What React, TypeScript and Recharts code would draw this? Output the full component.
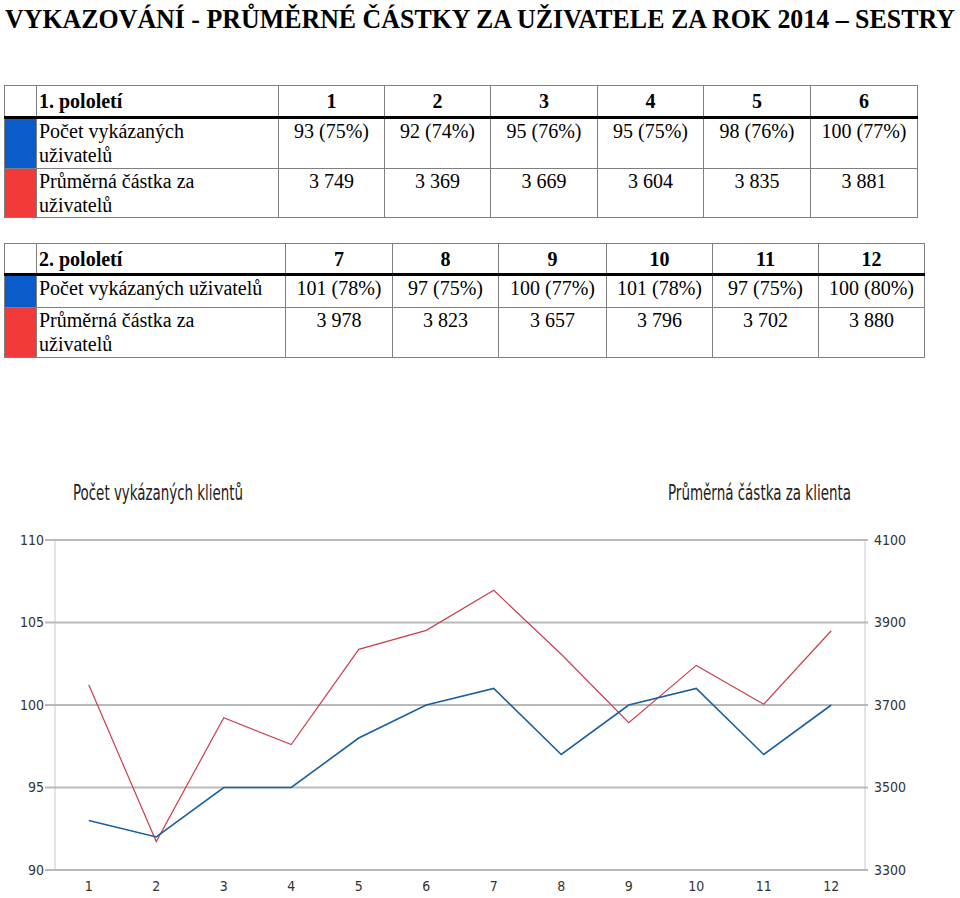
import React from 'react';
import { LineChart, Line, XAxis, YAxis, CartesianGrid } from 'recharts';

const months = [1, 2, 3, 4, 5, 6, 7, 8, 9, 10, 11, 12];
const clients = [93, 92, 95, 95, 98, 100, 101, 97, 100, 101, 97, 100];
const clientShare = [75, 74, 76, 75, 76, 77, 78, 75, 77, 78, 75, 80];
const avgAmount = [3749, 3369, 3669, 3604, 3835, 3881, 3978, 3823, 3657, 3796, 3702, 3880];

const leftTicks = [90, 95, 100, 105, 110];
const rightTicks = [3300, 3500, 3700, 3900, 4100];
const bandEdges = [0.5, 1.5, 2.5, 3.5, 4.5, 5.5, 6.5, 7.5, 8.5, 9.5, 10.5, 11.5, 12.5];

const chartData = months.map((m, i) => ({ month: m, clients: clients[i], amount: avgAmount[i] }));

const fmtAmount = (v: number) => {
  const s = String(v);
  return s.slice(0, s.length - 3) + ' ' + s.slice(-3);
};

const BLUE_SW = '#0a5ccb';
const RED_SW = '#f23a3a';
const GRID_H = '#b9b9b9';
const GRID_V = '#c8c8c8';
const serif = "'Liberation Serif', 'Times New Roman', serif";
const narrow = "'Liberation Sans Narrow', 'DejaVu Sans Condensed', Arial, sans-serif";

const cell: React.CSSProperties = {
  border: '1px solid #7f7f7f',
  padding: '0 2px',
  verticalAlign: 'top',
  fontFamily: serif,
  fontSize: 20,
  lineHeight: '24px',
  color: '#000',
  overflow: 'hidden',
  whiteSpace: 'nowrap',
};

function HalfTable({ title, idx, widths, heights, top, wrapFirst }: {
  title: string; idx: number[]; widths: number[]; heights: number[]; top: number; wrapFirst: boolean;
}) {
  const total = widths.reduce((a, b) => a + b, 0);
  return (
    <table style={{ position: 'absolute', left: 4, top, width: total, borderCollapse: 'collapse', tableLayout: 'fixed' }}>
      <colgroup>
        {widths.map((w, i) => <col key={i} style={{ width: w }} />)}
      </colgroup>
      <tbody>
        <tr style={{ height: heights[0] }}>
          <td style={{ ...cell, borderBottom: '3px solid #000' }} />
          <td style={{ ...cell, fontWeight: 'bold', paddingTop: 3, borderBottom: '3px solid #000' }}>{title}</td>
          {idx.map(i => (
            <td key={i} style={{ ...cell, fontWeight: 'bold', textAlign: 'center', paddingTop: 3, borderBottom: '3px solid #000' }}>{months[i]}</td>
          ))}
        </tr>
        <tr style={{ height: heights[1] }}>
          <td style={{ ...cell, background: BLUE_SW }} />
          <td style={cell}>{wrapFirst ? <>Počet vykázaných<br />uživatelů</> : 'Počet vykázaných uživatelů'}</td>
          {idx.map(i => (
            <td key={i} style={{ ...cell, textAlign: 'center' }}>{clients[i]} ({clientShare[i]}%)</td>
          ))}
        </tr>
        <tr style={{ height: heights[2] }}>
          <td style={{ ...cell, background: RED_SW }} />
          <td style={cell}>Průměrná částka za<br />uživatelů</td>
          {idx.map(i => (
            <td key={i} style={{ ...cell, textAlign: 'center' }}>{fmtAmount(avgAmount[i])}</td>
          ))}
        </tr>
      </tbody>
    </table>
  );
}

export default function App() {
  return (
    <div style={{ position: 'absolute', left: 0, top: 0, width: 960, height: 898, background: '#fff', overflow: 'hidden' }}>
      <svg width={960} height={40} style={{ position: 'absolute', left: 0, top: 0 }}>
        <text x={5} y={28} textLength={950} lengthAdjust="spacingAndGlyphs"
          style={{ fontFamily: serif, fontWeight: 'bold', fontSize: 27 }}>
          VYKAZOVÁNÍ - PRŮMĚRNÉ ČÁSTKY ZA UŽIVATELE ZA ROK 2014 – SESTRY
        </text>
      </svg>

      <HalfTable title="1. pololetí" idx={[0, 1, 2, 3, 4, 5]} top={85} wrapFirst
        widths={[32, 242, 106, 106, 107, 106, 107, 107]} heights={[32, 51, 49]} />
      <HalfTable title="2. pololetí" idx={[6, 7, 8, 9, 10, 11]} top={243} wrapFirst={false}
        widths={[32, 249, 107, 106, 108, 106, 106, 106]} heights={[31, 33, 50]} />

      <svg width={960} height={30} style={{ position: 'absolute', left: 0, top: 478 }}>
        <text x={73} y={22} textLength={170} lengthAdjust="spacingAndGlyphs"
          style={{ fontFamily: narrow, fontSize: 21, fill: '#222' }}>Počet vykázaných klientů</text>
        <text x={668} y={22} textLength={183} lengthAdjust="spacingAndGlyphs"
          style={{ fontFamily: narrow, fontSize: 21, fill: '#222' }}>Průměrná částka za klienta</text>
      </svg>

      <div style={{ position: 'absolute', left: 0, top: 470 }}>
        <LineChart width={960} height={428} data={chartData} margin={{ top: 70, right: 0, left: 0, bottom: 0 }}>
          <CartesianGrid xAxisId="grid" yAxisId="left" horizontal={false} stroke={GRID_V} strokeWidth={1} />
          <CartesianGrid xAxisId="grid" yAxisId="left" vertical={false} stroke={GRID_H} strokeWidth={2} />
          <XAxis xAxisId="grid" dataKey="month" type="number" domain={[0.5, 12.5]} ticks={bandEdges}
            height={0} tick={false} tickSize={17} axisLine={false} tickLine={{ stroke: GRID_V }} />
          <XAxis xAxisId="main" dataKey="month" type="number" domain={[0.5, 12.5]} ticks={months}
            height={28} tickSize={0} tickMargin={11} axisLine={false} tickLine={false}
            tick={{ fontFamily: narrow, fontSize: 14, fill: '#333' }} />
          <YAxis yAxisId="left" orientation="left" width={55} domain={[90, 110]} ticks={leftTicks}
            tickSize={10} tickMargin={1} axisLine={false} tickLine={{ stroke: GRID_H, strokeWidth: 2 }}
            tick={{ fontFamily: narrow, fontSize: 14, fill: '#333' }} />
          <YAxis yAxisId="right" orientation="right" width={95} domain={[3300, 4100]} ticks={rightTicks}
            tickSize={3} tickMargin={6} axisLine={false} tickLine={{ stroke: GRID_H, strokeWidth: 2 }}
            tick={{ fontFamily: narrow, fontSize: 14, fill: '#333', textAnchor: 'start' }} />
          <Line xAxisId="main" yAxisId="right" dataKey="amount" stroke="#c8404c" strokeWidth={1.2}
            dot={false} isAnimationActive={false} />
          <Line xAxisId="main" yAxisId="left" dataKey="clients" stroke="#1c5f9c" strokeWidth={1.6}
            dot={false} isAnimationActive={false} />
        </LineChart>
      </div>
    </div>
  );
}
